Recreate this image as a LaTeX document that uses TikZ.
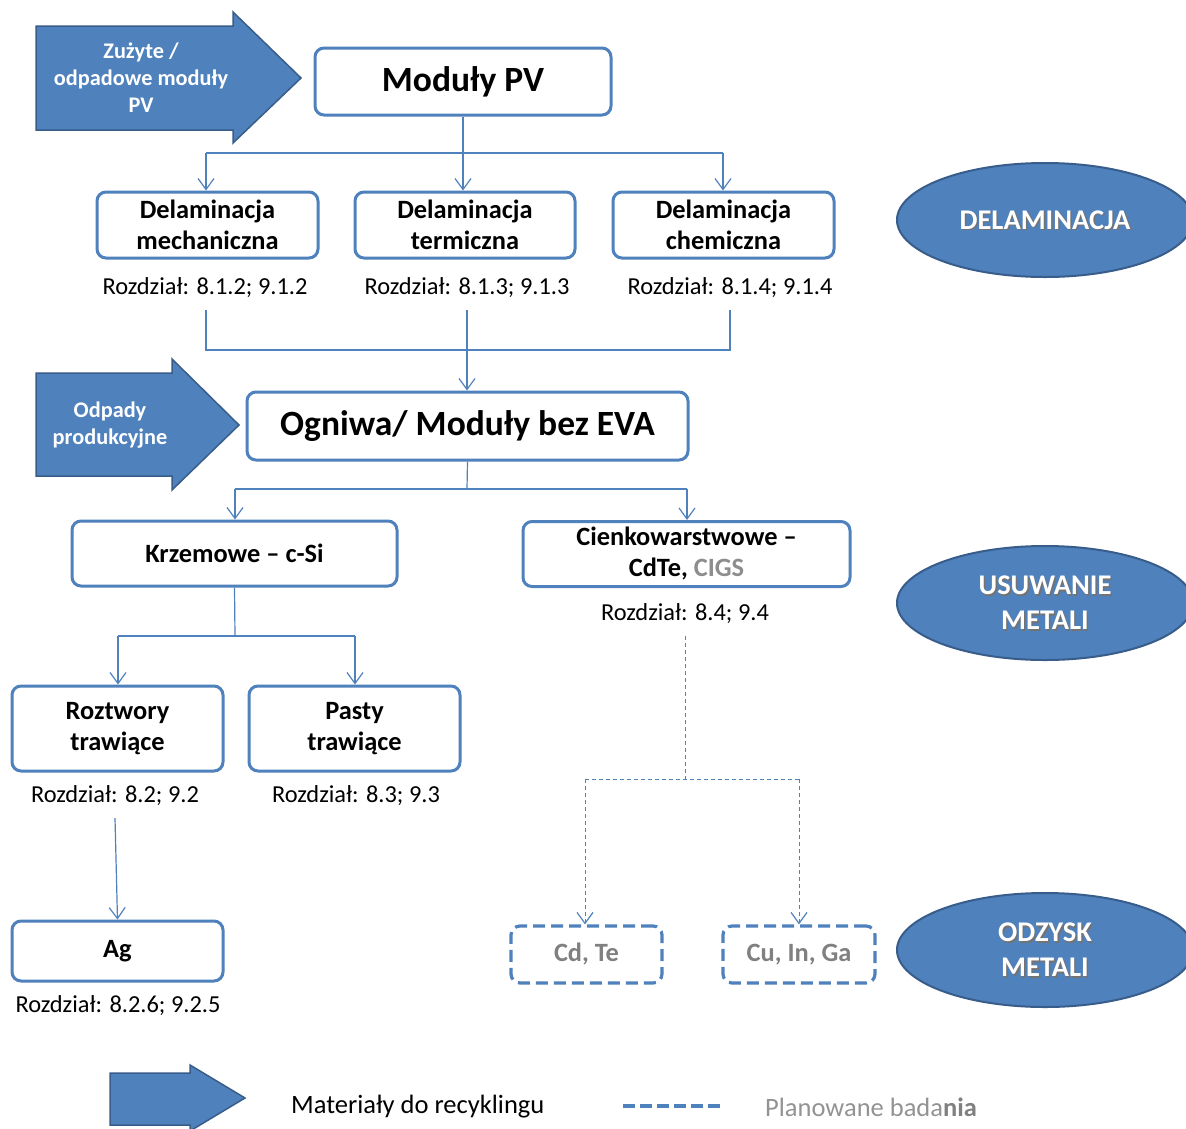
\documentclass[tikz,border=0pt]{standalone}
\usepackage{fontspec}
\setmainfont{Carlito}
\usetikzlibrary{arrows.meta,shapes.geometric}
\definecolor{ob}{HTML}{4F81BD}
\definecolor{obd}{HTML}{385D8A}
\definecolor{gtx}{HTML}{808080}
\begin{document}
\begin{tikzpicture}[x=1pt,y=-1pt,
  box/.style={draw=ob, line width=3pt, rounded corners=9pt, fill=white, inner sep=0pt, align=center, font=\fontsize{26.4}{31}\selectfont\bfseries},
  bigbox/.style={box, font=\fontsize{35.5}{40}\selectfont\bfseries},
  dbox/.style={box, dash pattern=on 12pt off 6pt, line width=3.2pt, text=gtx},
  captxt/.style={inner sep=0pt, font=\fontsize{24.4}{28}\selectfont},
  conn/.style={draw=ob, line width=1.2pt},
  tip/.style={-{Straight Barb[length=11pt,width=16pt,line width=1.2pt]}},
  dconn/.style={conn, line width=1pt, dash pattern=on 4pt off 3pt},
  bigarrow/.style={fill=ob, draw=obd, line width=1.5pt, line join=miter},
  arrtxt/.style={text=white, align=center, inner sep=0pt, font=\fontsize{22.3}{27}\selectfont\bfseries},
  oval/.style={ellipse, fill=ob, draw=obd, line width=2pt, minimum width=296pt, minimum height=114pt},
  ovtxt/.style={align=center, inner sep=0pt, font=\fontsize{28.5}{35}\selectfont\bfseries}
]
\useasboundingbox (0,0) rectangle (1186,1128);
\fill[white] (0,0) rectangle (1186,1128);
\clip (0,0) rectangle (1186,1128);

% big input arrows
\draw[bigarrow] (36,26) -- (233,26) -- (233,12) -- (301,78) -- (233,143) -- (233,130) -- (36,130) -- cycle;
\node[arrtxt] (a1t) at (141,78) {Zużyte /\\odpadowe moduły\\PV};
\draw[bigarrow] (36,373) -- (172,373) -- (172,359) -- (239,425) -- (172,490) -- (172,476) -- (36,476) -- cycle;
\node[arrtxt] (a2t) at (110,425) {Odpady\\produkcyjne};

% boxes
\node[bigbox, minimum width=296pt, minimum height=67pt] (pv) at (463,81.5) {Moduły PV};
\node[box, minimum width=221pt, minimum height=66pt] (dm) at (207.5,225) {Delaminacja\\mechaniczna};
\node[box, minimum width=220pt, minimum height=66pt] (dt) at (465,225) {Delaminacja\\termiczna};
\node[box, minimum width=221pt, minimum height=66pt] (dc) at (723.5,225) {Delaminacja\\chemiczna};
\node[captxt] (c1) at (205,288) {Rozdział: 8.1.2; 9.1.2};
\node[captxt] (c2) at (467,288) {Rozdział: 8.1.3; 9.1.3};
\node[captxt] (c3) at (730,288) {Rozdział: 8.1.4; 9.1.4};

\node[bigbox, minimum width=441pt, minimum height=68pt] (og) at (467.5,426) {Ogniwa/ Moduły bez EVA};
\node[box, minimum width=325pt, minimum height=65pt] (kr) at (234.5,553.5) {Krzemowe – c-Si};
\node[box, minimum width=327pt, minimum height=65pt] (ck) at (686.5,554) {Cienkowarstwowe –\\CdTe, {\color{gtx!90}CIGS}};
\node[captxt] (c4) at (685,614) {Rozdział: 8.4; 9.4};

\node[box, minimum width=211pt, minimum height=85pt] (rt) at (117.5,728.5) {Roztwory\\trawiące};
\node[box, minimum width=211pt, minimum height=85pt] (pt) at (354.5,728.5) {Pasty\\trawiące};
\node[captxt] (c5) at (115,796) {Rozdział: 8.2; 9.2};
\node[captxt] (c6) at (356,796) {Rozdział: 8.3; 9.3};

\node[box, minimum width=211pt, minimum height=60pt] (ag) at (117.5,951) {Ag};
\node[captxt] (c7) at (118,1006) {Rozdział: 8.2.6; 9.2.5};

\node[dbox, minimum width=151pt, minimum height=57pt] (cd) at (586.5,954.5) {Cd, Te};
\node[dbox, minimum width=152pt, minimum height=57pt] (cu) at (799,954.5) {Cu, In, Ga};

% connectors
\coordinate (j1l) at (206,153);
\coordinate (j1r) at (723,153);
\draw[conn] (j1l) -- (j1r);
\draw[conn,tip] (pv.south) -- (pv.south |- dt.north);
\draw[conn,tip] (j1l) -- (j1l |- dm.north);
\draw[conn,tip] (j1r) -- (j1r |- dc.north);

\coordinate (k1) at (206,310);
\coordinate (k2) at (467,310);
\coordinate (k3) at (730,310);
\coordinate (k1b) at (206,350);
\coordinate (k3b) at (730,350);
\draw[conn] (k1) -- (k1b) -- (k3b) -- (k3);
\draw[conn,tip] (k2) -- (k2 |- og.north);

\coordinate (j2) at (467,489);
\coordinate (j2l) at (235,489);
\coordinate (j2r) at (687,489);
\draw[conn] (og.south) -- (j2);
\draw[conn] (j2l) -- (j2r);
\draw[conn,tip] (j2l) -- (j2l |- kr.north);
\draw[conn,tip] (j2r) -- (j2r |- ck.north);

\coordinate (j3) at (235,636);
\coordinate (j3l) at (118,636);
\coordinate (j3r) at (355,636);
\draw[conn] (kr.south) -- (j3);
\draw[conn] (j3l) -- (j3r);
\draw[conn,tip] (j3l) -- (j3l |- rt.north);
\draw[conn,tip] (j3r) -- (j3r |- pt.north);

\coordinate (k5) at (115,818);
\draw[conn,tip] (k5) -- (ag.north);

\coordinate (k4) at (685,636);
\coordinate (j4) at (685,779);
\coordinate (j4l) at (585,779);
\coordinate (j4r) at (799,779);
\draw[dconn] (k4) -- (j4);
\draw[dconn] (j4l) -- (j4r);
\draw[dconn,tip] (j4l) -- (j4l |- cd.north);
\draw[dconn,tip] (j4r) -- (j4r |- cu.north);

% ovals
\node[oval] (o1) at (1045,220) {};
\node[oval] (o2) at (1045,603) {};
\node[oval] (o3) at (1045,950) {};
\foreach \n/\t in {o1/DELAMINACJA, o2/{USUWANIE\\METALI}, o3/{ODZYSK\\METALI}}{
  \node[ovtxt, text=black!55] at ([shift={(1.5,1.5)}]\n.center) {\t};
  \node[ovtxt, text=white] at (\n.center) {\t};
}

% legend
\draw[bigarrow] (110,1073) -- (190,1073) -- (190,1065) -- (245,1098) -- (190,1131) -- (190,1125) -- (110,1125) -- cycle;
\node[anchor=west, inner sep=0pt, font=\fontsize{26.5}{30}\selectfont] (l1) at (291,1107) {Materiały do recyklingu};
\coordinate (d1) at (623,1106);
\coordinate (d2) at (720,1106);
\draw[draw=ob, line width=4pt, dash pattern=on 12pt off 5pt] (d1) -- (d2);
\node[anchor=west, inner sep=0pt, font=\fontsize{26.5}{30}\selectfont, text=gtx!85] (l2) at (765,1107) {Planowane bada{\bfseries\color{gtx}nia}};
\end{tikzpicture}
\end{document}
